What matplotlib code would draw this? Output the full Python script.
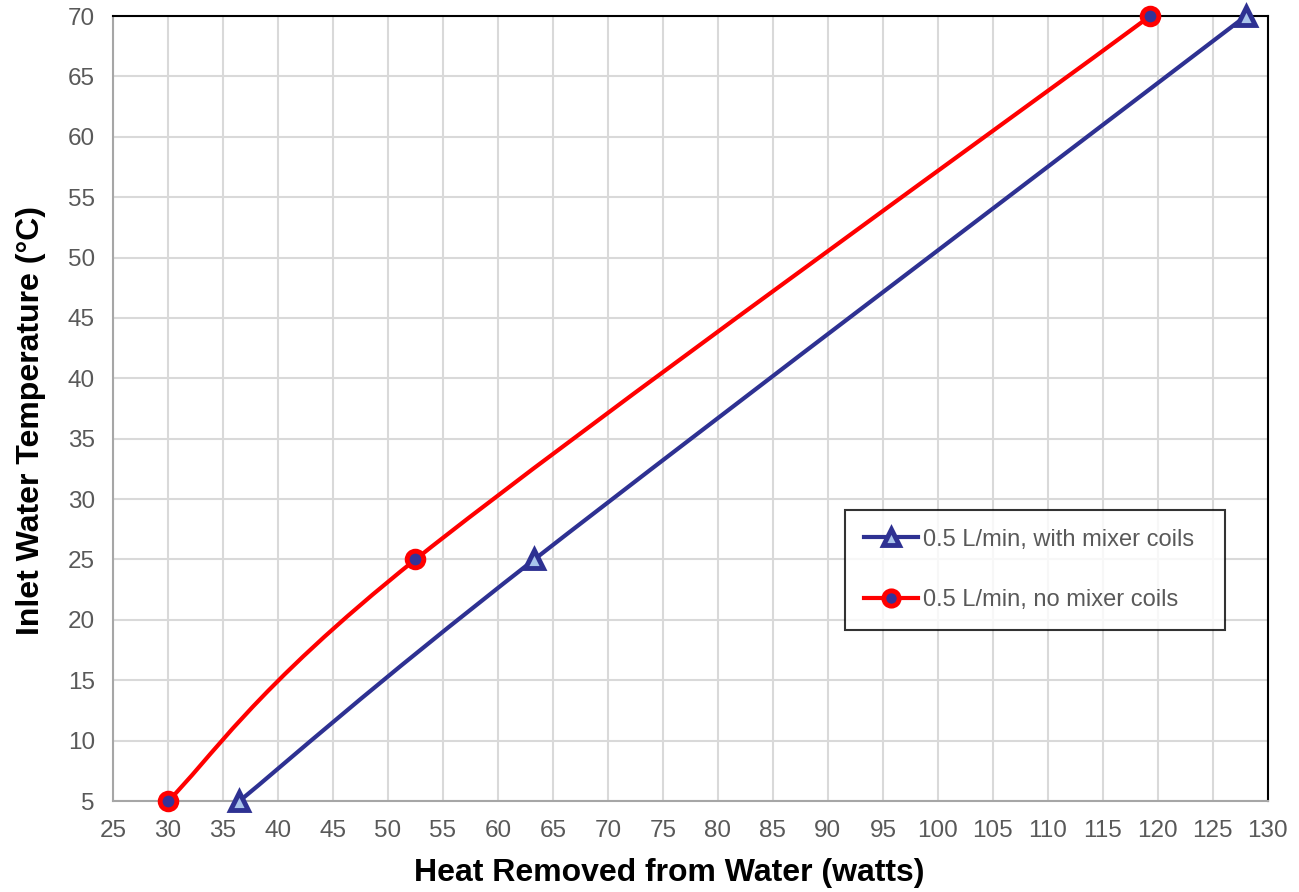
import matplotlib
matplotlib.use("Agg")
import matplotlib.pyplot as plt
from matplotlib.path import Path
from matplotlib.patches import PathPatch
from matplotlib.lines import Line2D
import numpy as np

plt.rcParams['font.family'] = ['Liberation Sans', 'DejaVu Sans']

# Data
with_coils_x = [36.5, 63.3, 128.0]
with_coils_y = [5, 25, 70]
no_coils_x = [30.0, 52.5, 119.3]
no_coils_y = [5, 25, 70]
labels = ["0.5 L/min, with mixer coils", "0.5 L/min, no mixer coils"]
x_ticks = list(range(25, 131, 5))
y_ticks = list(range(5, 71, 5))

BLUE = '#2E3192'
RED = '#FF0000'
GRAY_TXT = '#595959'


def smooth_path(xs, ys):
    pts = np.column_stack([xs, ys]).astype(float)
    n = len(pts)
    verts = [pts[0]]
    codes = [Path.MOVETO]
    for i in range(n - 1):
        p_prev = pts[i - 1] if i > 0 else pts[i]
        p0 = pts[i]
        p1 = pts[i + 1]
        p_next = pts[i + 2] if i + 2 < n else pts[i + 1]
        c1 = p0 + (p1 - p_prev) / 6.0
        c2 = p1 - (p_next - p0) / 6.0
        verts += [c1, c2, p1]
        codes += [Path.CURVE4] * 3
    return Path(verts, codes)


fig = plt.figure(figsize=(12.99, 8.92), dpi=100)
ax = fig.add_axes([0.087, 0.102, 0.889, 0.880])

ax.set_xlim(25, 130)
ax.set_ylim(5, 70)
ax.set_xticks(x_ticks)
ax.set_yticks(y_ticks)
ax.grid(True, color='#D9D9D9', linewidth=1.5)
ax.set_axisbelow(True)
ax.tick_params(length=0, labelsize=17.5, colors=GRAY_TXT)
ax.tick_params(axis='x', pad=14)
ax.tick_params(axis='y', pad=13)

for side in ['top', 'right']:
    ax.spines[side].set_color('black')
    ax.spines[side].set_linewidth(1.5)
for side in ['left', 'bottom']:
    ax.spines[side].set_color('#A6A6A6')
    ax.spines[side].set_linewidth(1.5)

ax.add_patch(PathPatch(smooth_path(with_coils_x, with_coils_y), fill=False,
                       edgecolor=BLUE, linewidth=3, capstyle='round', zorder=3, clip_on=False))
ax.plot(with_coils_x, with_coils_y, linestyle='none', marker='^', markersize=13,
        markerfacecolor='#A9C4EB', markeredgecolor=BLUE, markeredgewidth=3.5,
        zorder=4, clip_on=False)
ax.add_patch(PathPatch(smooth_path(no_coils_x, no_coils_y), fill=False,
                       edgecolor=RED, linewidth=3, capstyle='round', zorder=3, clip_on=False))
ax.plot(no_coils_x, no_coils_y, linestyle='none', marker='o', markersize=12,
        markerfacecolor='#333399', markeredgecolor=RED, markeredgewidth=3.5,
        zorder=4, clip_on=False)

h1 = Line2D([], [], color=BLUE, linewidth=3, marker='^', markersize=11,
            markerfacecolor='#A9C4EB', markeredgecolor=BLUE, markeredgewidth=3.5)
h2 = Line2D([], [], color=RED, linewidth=3, marker='o', markersize=11,
            markerfacecolor='#333399', markeredgecolor=RED, markeredgewidth=3.5)
leg = ax.legend([h1, h2], labels, loc='lower left',
                bbox_to_anchor=(0.634, 0.218, 0.329, 0.159), mode='expand',
                fontsize=17, labelcolor=GRAY_TXT, frameon=True, fancybox=False,
                edgecolor='black', handlelength=2.3, handletextpad=0.2,
                borderpad=0.78, labelspacing=1.65, borderaxespad=0)
leg.get_frame().set_linewidth(1.5)

ax.set_xlabel('Heat Removed from Water (watts)', fontsize=23, fontweight='bold')
ax.set_ylabel('Inlet Water Temperature (°C)', fontsize=23, fontweight='bold')
ax.xaxis.set_label_coords(0.482, -0.072)
ax.yaxis.set_label_coords(-0.058, 0.485)

fig.savefig('out.png', dpi=100)
